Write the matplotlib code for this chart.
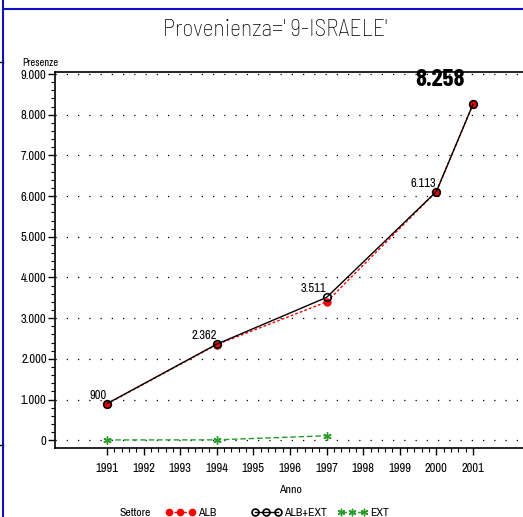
import matplotlib
matplotlib.use("Agg")
import numpy as np
from matplotlib import pyplot as plt
from matplotlib.ticker import FixedLocator, FuncFormatter
from matplotlib.lines import Line2D

plt.rcParams['font.family'] = ['Archivo Narrow', 'DejaVu Sans']

# data
anni = [1991, 1994, 1997, 2000, 2001]
alb = [892, 2352, 3400, 6113, 8258]
alb_ext = [900, 2362, 3511, 6113, 8258]
anni_ext = [1991, 1994, 1997]
ext = [8, 10, 111]
etichette = ['900', '2.362', '3.511', '6.113', '8.258']
settori = ['ALB', 'ALB+EXT', 'EXT']
x_ticks = list(range(1991, 2002))
y_ticks = list(range(0, 9001, 1000))

W, H = 523, 517
fig = plt.figure(figsize=(W / 100, H / 100), dpi=100)

# axes placed in pixels of the reference
left, right, top, bottom = 55, 523, 72, 448
ax = fig.add_axes([left / W, 1 - bottom / H, (right - left) / W, (bottom - top) / H])

px_year = (473 - 107) / 10.0
ax.set_xlim(1991 - (107 - left) / px_year, 1991 + (right - 107) / px_year)
ax.set_ylim(-190, 9050)

# lines: ALB (red dashed), ALB+EXT (black), EXT (green dashed)
l_alb, = ax.plot(anni, alb, color='red', linestyle=(0, (2, 1.5)), linewidth=1,
                 marker='o', markersize=5, markerfacecolor='red', markeredgecolor='red', zorder=3)
l_tot, = ax.plot(anni, alb_ext, color='black', linewidth=1,
                 marker='o', markersize=5.5, markerfacecolor='none', markeredgecolor='black',
                 markeredgewidth=1.2, zorder=4)
l_ext, = ax.plot(anni_ext, ext, color='#2a9a2a', linestyle=(0, (4, 2)), linewidth=1,
                 marker=(6, 2, 0), markersize=6, markeredgecolor='#2a9a2a', zorder=3)

# point labels
for xv, yv, lab in zip(anni[:-1], alb_ext[:-1], etichette[:-1]):
    ax.annotate(lab, (xv, yv), xytext=(0, 3), textcoords='offset pixels',
                ha='right', va='bottom', fontsize=9)
ax.annotate(etichette[-1], (anni[-1], alb_ext[-1]), xytext=(-8, 13), textcoords='offset pixels',
            ha='right', va='bottom', fontsize=18, fontweight='bold', family='Barlow Condensed')

# dotted grid
for yv in y_ticks:
    ax.axhline(yv, color='black', linestyle=(0, (1, 8)), linewidth=0.9, zorder=1)

ax.spines['right'].set_visible(False)
ax.spines['top'].set_linewidth(1.2)
ax.spines['bottom'].set_linewidth(1.2)
ax.spines['left'].set_linewidth(1.2)

ax.xaxis.set_major_locator(FixedLocator(x_ticks))
ax.xaxis.set_minor_locator(FixedLocator(np.arange(1991, 2001.01, 0.2)))
ax.yaxis.set_major_locator(FixedLocator(y_ticks))
ax.yaxis.set_minor_locator(FixedLocator(np.arange(0, 9001, 200)))
ax.yaxis.set_major_formatter(FuncFormatter(lambda v, p: '{:,.0f}'.format(v).replace(',', '.')))
ax.tick_params(axis='both', which='major', direction='out', length=5, width=1, labelsize=9)
ax.tick_params(axis='both', which='minor', direction='out', length=3, width=0.8)
ax.tick_params(axis='x', pad=6)
ax.tick_params(axis='y', pad=1)

fig.text(22 / W, 1 - 63 / H, 'Presenze', fontsize=7.5, va='center', ha='left')
fig.text(290 / W, 1 - 490 / H, 'Anno', fontsize=8.5, ha='center', va='center')
fig.text(275 / W, 1 - 30 / H, "Provenienza=' 9-ISRAELE'", fontsize=17, ha='center', va='center',
         color='black', fontweight='light', family='Barlow Semi Condensed')

# legend at the bottom, one small legend per series so each sits where the reference has it
fig.text(119 / W, 1 - 513 / H, 'Settore', fontsize=8.5, ha='left', va='center')
for handle, nome, x0 in zip([l_alb, l_tot, l_ext], settori, [165, 251, 337]):
    fig.legend([handle], [nome], numpoints=3, loc='center left', markerscale=0.9,
               bbox_to_anchor=(x0 / W, 1 - 513 / H), frameon=False, fontsize=8.5,
               handlelength=2.6, handletextpad=0.2, borderpad=0, borderaxespad=0)

# frame pieces of the page around the panel
fig.add_artist(Line2D([3 / W, 3 / W], [0, 1], color='#1010c0', linewidth=1.5))
fig.add_artist(Line2D([3 / W, 1], [1 - 9 / H, 1 - 9 / H], color='#1010c0', linewidth=1.5))
fig.add_artist(Line2D([0, 3 / W], [1 - 62 / H, 1 - 62 / H], color='black', linewidth=1))
fig.add_artist(Line2D([0, 3 / W], [1 - 445 / H, 1 - 445 / H], color='black', linewidth=1))

fig.savefig('out.png', dpi=100)
